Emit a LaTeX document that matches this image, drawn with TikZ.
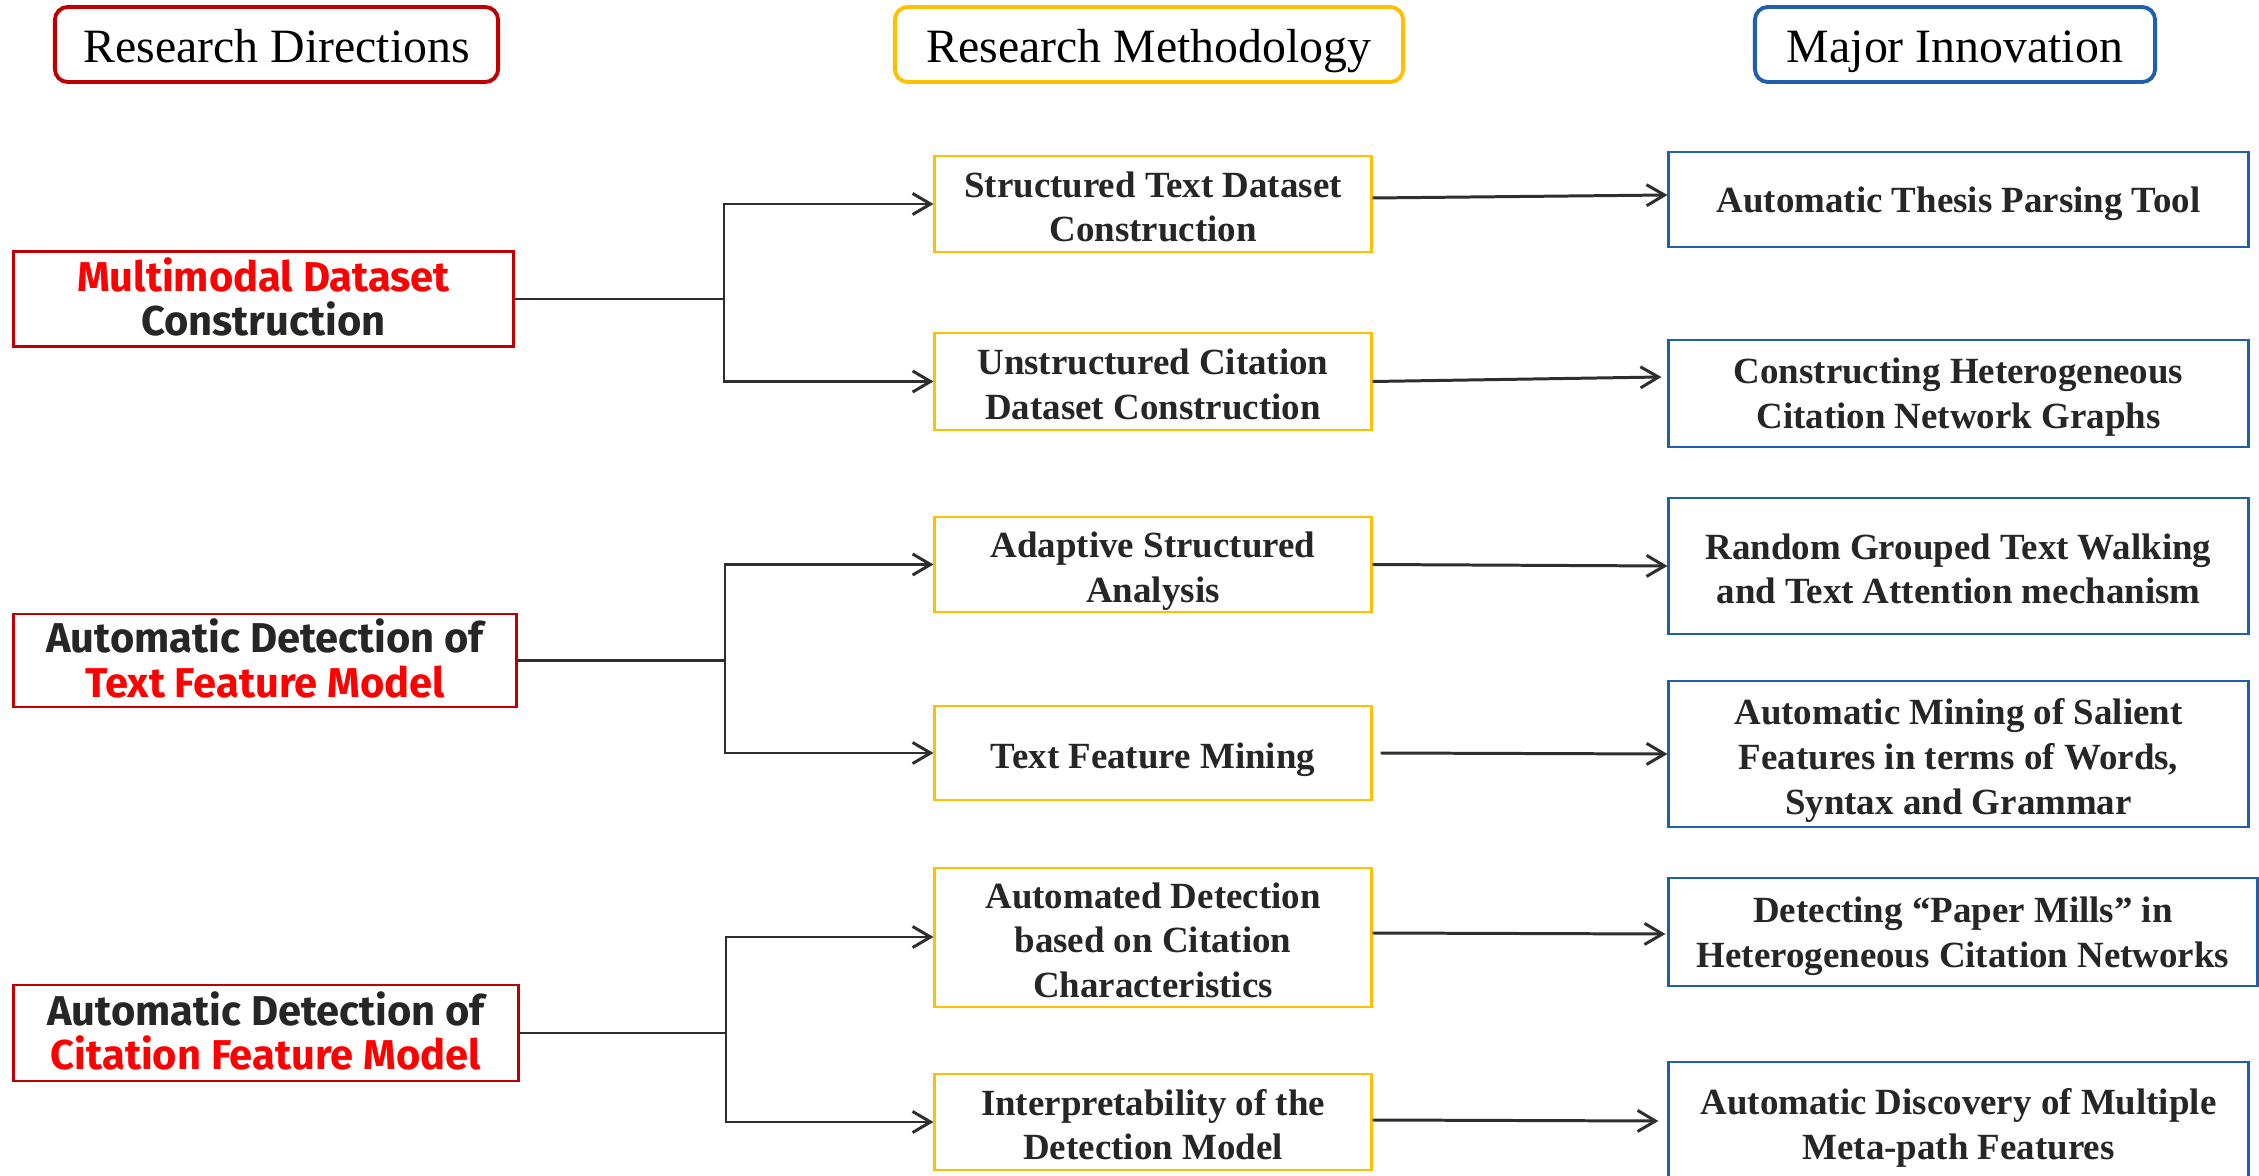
\documentclass[tikz,border=0pt]{standalone}
\usepackage{fontspec}
\setmainfont{Liberation Serif}
\newfontfamily\leftfont{Fira Sans}
\usetikzlibrary{arrows.meta}
\definecolor{hdred}{HTML}{C00000}
\definecolor{txtred}{HTML}{FF0000}
\definecolor{ylw}{HTML}{FFC000}
\definecolor{blu}{HTML}{1F5FAD}
\definecolor{ln}{HTML}{2E2E2E}
\newcommand{\tstr}{\rule{0pt}{8.8pt}}
\begin{document}
\begin{tikzpicture}[x=0.01cm,y=-0.01cm,
  hdr/.style={draw, rounded corners=0.13cm, line width=1.1pt, inner sep=0pt,
    minimum height=0.75cm, text height=0.35cm, text depth=0pt,
    font=\fontsize{13.6}{16}\selectfont},
  lbox/.style={draw=hdred, line width=0.8pt, inner sep=0pt, align=center,
    text depth=0.05cm, font=\leftfont\bfseries\fontsize{11.85}{12.7}\selectfont, text=black!85},
  mbox/.style={draw=ylw, line width=0.8pt, inner sep=0pt, align=center, text depth=0pt,
    minimum width=4.36cm, font=\bfseries\fontsize{10.5}{12.7}\selectfont, text=black!85},
  rbox/.style={draw=blu, line width=0.8pt, inner sep=0pt, align=center, text depth=0pt,
    minimum width=5.79cm, font=\bfseries\fontsize{10.5}{12.7}\selectfont, text=black!85},
  link/.style={draw=ln, line width=0.85pt},
  arr/.style={link, -{Straight Barb[length=5.1pt,width=6pt]}}
]
\clip (0,0) rectangle (2259,1176);
\useasboundingbox (0,0) rectangle (2259,1176);
\fill[white] (0,0) rectangle (2259,1176);

% headers
\node[hdr, draw=hdred, minimum width=4.43cm] (h1) at (276.5,44.5) {Research Directions};
\node[hdr, draw=ylw, minimum width=5.08cm] (h2) at (1149,44.5) {Research Methodology};
\node[hdr, draw=blu, minimum width=4.00cm] (h3) at (1955,44.5) {Major Innovation};

% left boxes
\node[lbox, minimum width=4.99cm, minimum height=0.95cm] (l1) at (263.5,299)
  {\textcolor{txtred}{Multimodal Dataset}\\Construction};
\node[lbox, minimum width=5.02cm, minimum height=0.93cm] (l2) at (265,660.5)
  {Automatic Detection of\\\textcolor{txtred}{Text Feature Model}};
\node[lbox, minimum width=5.04cm, minimum height=0.96cm] (l3) at (266,1033)
  {Automatic Detection of\\\textcolor{txtred}{Citation Feature Model}};

% middle boxes
\node[mbox, minimum height=0.96cm] (m1) at (1153,204) {\tstr Structured Text Dataset\\Construction};
\node[mbox, minimum height=0.97cm] (m2) at (1153,381.5) {\tstr Unstructured Citation\\Dataset Construction};
\node[mbox, minimum height=0.95cm] (m3) at (1153,564.5) {\tstr Adaptive Structured\\Analysis};
\node[mbox, minimum height=0.94cm] (m4) at (1153,753) {\tstr Text Feature Mining};
\node[mbox, minimum height=1.39cm] (m5) at (1153,937.5) {\tstr Automated Detection\\based on Citation\\Characteristics};
\node[mbox, minimum height=0.96cm] (m6) at (1153,1122) {\tstr Interpretability of the\\Detection Model};

% right boxes
\node[rbox, minimum height=0.95cm] (r1) at (1958.5,199.5) {Automatic Thesis Parsing Tool};
\node[rbox, minimum height=1.07cm] (r2) at (1958.5,393.5) {Constructing Heterogeneous\\Citation Network Graphs};
\node[rbox, minimum height=1.36cm] (r3) at (1958.5,566) {\tstr Random Grouped Text Walking\\and Text Attention mechanism};
\node[rbox, minimum height=1.46cm] (r4) at (1958.5,754) {\tstr Automatic Mining of Salient\\Features in terms of Words,\\Syntax and Grammar};
\node[rbox, minimum width=5.88cm, minimum height=1.08cm] (r5) at (1963,932) {Detecting “Paper Mills” in\\Heterogeneous Citation Networks};
\node[rbox, minimum height=1.24cm] (r6) at (1958.5,1124) {Automatic Discovery of Multiple\\Meta-path Features};

% branch points
\coordinate (b1) at (724,299);
\coordinate (b2) at (725,660.5);
\coordinate (b3) at (726,1033);

% left -> middle
\draw[link] (l1.east) -- (b1);
\draw[arr] (b1) |- (m1.west);
\draw[arr] (b1) |- (m2.west);
\draw[link] (l2.east) -- (b2);
\draw[arr] (b2) |- (m3.west);
\draw[arr] (b2) |- (m4.west);
\draw[link] (l3.east) -- (b3);
\draw[arr] (b3) |- ([yshift=0.005cm]m5.west);
\draw[arr] (b3) |- (m6.west);

% middle -> right
\draw[arr] ([yshift=0.06cm]m1.east) -- ([yshift=0.045cm]r1.west);
\draw[arr] (m2.east) -- ([xshift=-0.06cm,yshift=0.165cm]r2.west);
\draw[arr] (m3.east) -- (r3.west);
\draw[arr] ([xshift=0.08cm]m4.east) -- (r4.west);
\draw[arr] ([yshift=0.045cm]m5.east) -- ([xshift=-0.02cm,yshift=-0.02cm]r5.west);
\draw[arr] ([yshift=0.02cm]m6.east) -- ([xshift=-0.09cm,yshift=0.03cm]r6.west);
\end{tikzpicture}
\end{document}
